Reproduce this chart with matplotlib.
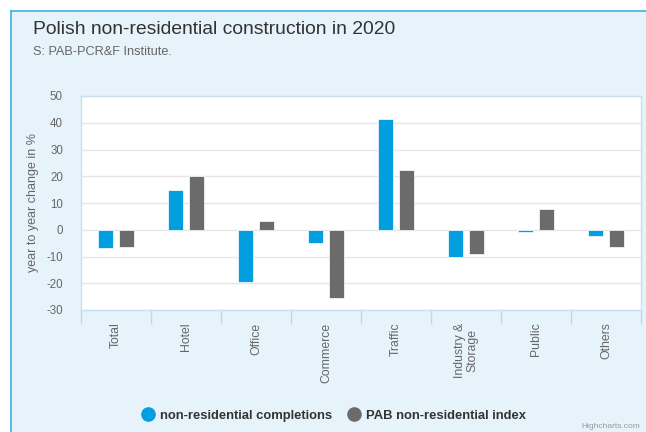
import matplotlib
matplotlib.use("Agg")
import matplotlib.pyplot as plt
import numpy as np
from matplotlib.patches import Rectangle
from matplotlib.lines import Line2D

categories = ["Total", "Hotel", "Office", "Commerce", "Traffic", "Industry &\nStorage", "Public", "Others"]
completions = [-6.9, 14.8, -19.7, -5.1, 41.5, -10.2, -1.0, -2.5]
pab_index = [-6.5, 20.2, 3.4, -25.6, 22.2, -9.1, 7.7, -6.3]
yticks = [-30, -20, -10, 0, 10, 20, 30, 40, 50]

BLUE = "#019EE0"
GRAY = "#6B6B6B"
BG = "#E6F3FB"
TXT = "#666666"

plt.rcParams['font.family'] = ['Liberation Sans', 'DejaVu Sans']

fig = plt.figure(figsize=(6.46, 4.32), dpi=100)
fig.patch.set_facecolor("white")

# outer chart background with border
bgrect = Rectangle((11/646, 0), 1 - 11/646 + 0.01, 1 - 11/432, transform=fig.transFigure,
                   facecolor=BG, edgecolor="none", zorder=-10)
fig.patches.append(bgrect)
fig.add_artist(Line2D([11/646, 11/646], [0, 1 - 11/432], transform=fig.transFigure, color="#3FAEE3", lw=1.2))
fig.add_artist(Line2D([11/646, 1], [1 - 11/432, 1 - 11/432], transform=fig.transFigure, color="#3FAEE3", lw=1.2))

ax = fig.add_axes([81/646, 1 - 310/432, (641 - 81)/646, (310 - 96)/432])
ax.set_facecolor("white")

n = len(categories)
x = np.arange(n)
w = 0.222
off = 0.15
ax.bar(x - off, completions, width=w, color=BLUE, edgecolor="white", linewidth=0.5, zorder=3)
ax.bar(x + off, pab_index, width=w, color=GRAY, edgecolor="white", linewidth=0.5, zorder=3)

ax.set_xlim(-0.5, n - 0.5)
ax.set_ylim(-30, 50)
ax.set_yticks(yticks)
ax.set_yticklabels([str(v) for v in yticks], fontsize=8.3, color=TXT)
ax.yaxis.grid(True, color="#E6E6E6", linewidth=1, zorder=0)
ax.tick_params(axis="y", length=0, pad=13)

ax.set_xticks(x)
ax.set_xticklabels(categories, rotation=90, fontsize=8.8, color=TXT, va="top", ha="center",
                   linespacing=1.0)
ax.set_xticks(np.arange(n + 1) - 0.5, minor=True)
ax.tick_params(axis="x", which="major", length=0, pad=9)
ax.tick_params(axis="x", which="minor", length=10, color="#C0D8E4", width=1)

for s in ax.spines.values():
    s.set_color("#C6E2EE")
    s.set_linewidth(1)

ax.set_ylabel("year to year change in %", fontsize=9, color=TXT)
ax.yaxis.set_label_coords(-0.075, 0.5)

fig.text(33/646, 1 - 30/432, "Polish non-residential construction in 2020", fontsize=13.9,
         color="#333333", va="center", ha="left")
fig.text(33/646, 1 - 52/432, "S: PAB-PCR&F Institute.", fontsize=9.2, color=TXT, va="center", ha="left")

handles = [Line2D([], [], marker="o", linestyle="none", markersize=9.5, markerfacecolor=BLUE, markeredgecolor=BLUE),
           Line2D([], [], marker="o", linestyle="none", markersize=9.5, markerfacecolor=GRAY, markeredgecolor=GRAY)]
leg = fig.legend(handles, ["non-residential completions", "PAB non-residential index"],
                 loc="center", bbox_to_anchor=(333.5/646, 1 - 415.5/432), ncol=2, frameon=False,
                 prop={"weight": "bold", "size": 9.4}, handletextpad=0.4, columnspacing=1.2,
                 handlelength=1.0)
for t in leg.get_texts():
    t.set_color("#333333")

fig.text(640/646, 1 - 427/432, "Highcharts.com", fontsize=6, color="#999999", ha="right", va="center")

fig.savefig("out.png", dpi=100, facecolor=fig.get_facecolor())
